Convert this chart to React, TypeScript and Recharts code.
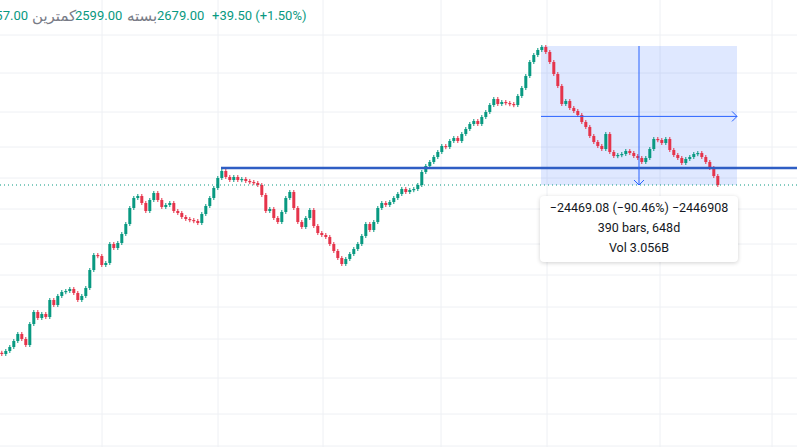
import React from 'react';
import { ComposedChart, Bar, XAxis, YAxis, CartesianGrid, ReferenceLine, ReferenceArea } from 'recharts';

// closing prices, one per candle
const closes = [
  1834, 1849, 1869, 1899, 1934, 1909, 1879, 1984, 2044, 2014,
  2034, 2019, 2104, 2079, 2124, 2144, 2149, 2159, 2139, 2104,
  2124, 2164, 2254, 2329, 2324, 2279, 2289, 2384, 2364, 2389,
  2434, 2484, 2564, 2614, 2624, 2589, 2549, 2604, 2639, 2604,
  2569, 2579, 2589, 2549, 2539, 2519, 2509, 2504, 2499, 2489,
  2534, 2574, 2614, 2664, 2714, 2749, 2719, 2704, 2719, 2704,
  2709, 2699, 2694, 2689, 2679, 2629, 2549, 2559, 2514, 2494,
  2544, 2614, 2644, 2564, 2494, 2469, 2514, 2554, 2474, 2439,
  2429, 2419, 2384, 2349, 2314, 2284, 2309, 2334, 2359, 2384,
  2424, 2484, 2454, 2494, 2564, 2589, 2579, 2594, 2614, 2634,
  2659, 2644, 2654, 2659, 2679, 2744, 2774, 2794, 2819, 2844,
  2874, 2869, 2899, 2914, 2899, 2934, 2959, 2984, 2999, 2984,
  3019, 3044, 3079, 3109, 3084, 3094, 3089, 3084, 3079, 3124,
  3164, 3224, 3294, 3329, 3354, 3369, 3344, 3294, 3234, 3174,
  3084, 3099, 3064, 3049, 3029, 2994, 2969, 2924, 2894, 2874,
  2859, 2934, 2844, 2824, 2829, 2834, 2849, 2839, 2824, 2814,
  2794, 2814, 2859, 2909, 2904, 2889, 2909, 2854, 2829, 2814,
  2789, 2809, 2819, 2834, 2839, 2819, 2794, 2764, 2724, 2679,
];
const firstOpen = 1840;

const gridPrices = [3429, 3239, 3044, 2869, 2714, 2559, 2384, 2229, 2069, 1909, 1714, 1534, 1374];
const gridBars = [25, 54, 80.25, 109.75, 136.25, 164.5, 192.5];

const lastPrice = 2679;
const levelPrice = 2764;
const levelStart = 54.75;
const measureStart = 134.75;
const measureEnd = 183.75;
const measureTop = 3374;
const measureMid = 159.25;
const measureMidPrice = 3022;

const xDomain = [-0.5, 198.75];
const yDomain = [1369, 3604];

const UP = '#089981';
const DOWN = '#e5344b';
const BLUE = '#2962ff';

const data = closes.map((c, i) => {
  const o = i === 0 ? firstOpen : closes[i - 1];
  return { t: i, body: [Math.min(o, c), Math.max(o, c)], up: c >= o };
});

const Candle = (props: any) => {
  const { x, y, width, height, payload } = props;
  if (x == null || y == null) return null;
  const top = Math.min(y, y + height);
  const h = Math.max(Math.abs(height), 1.2);
  const color = payload.up ? UP : DOWN;
  const cx = x + width / 2;
  return (
    <g>
      <line x1={cx} x2={cx} y1={top - 2} y2={top + h + 2} stroke={color} strokeWidth={1} />
      <rect x={x + 0.3} y={top} width={width - 0.6} height={h} fill={color} />
    </g>
  );
};

const valueStyle: React.CSSProperties = { color: '#089981' };
const labelStyle: React.CSSProperties = { color: '#787b86', fontFamily: '"DejaVu Sans", sans-serif', fontSize: 15 };

export default function App() {
  return (
    <div style={{ position: 'fixed', left: 0, top: 0, width: 797, height: 447, overflow: 'hidden', background: '#ffffff' }}>
      <ComposedChart width={797} height={447} data={data} margin={{ top: 0, right: 0, bottom: 0, left: 0 }}>
        <XAxis dataKey="t" type="number" domain={xDomain} ticks={gridBars} hide allowDataOverflow />
        <YAxis type="number" domain={yDomain} ticks={gridPrices} hide allowDataOverflow />
        <CartesianGrid stroke="#eef0f4" horizontalValues={gridPrices} verticalValues={gridBars} />
        <ReferenceArea x1={measureStart} x2={measureEnd} y1={lastPrice} y2={measureTop} fill={BLUE} fillOpacity={0.15} stroke="none" />
        <Bar dataKey="body" barSize={4} shape={<Candle />} isAnimationActive={false} />
        <ReferenceLine y={lastPrice} stroke={UP} strokeDasharray="1 3" strokeWidth={1} />
        <ReferenceLine segment={[{ x: levelStart, y: levelPrice }, { x: xDomain[1], y: levelPrice }]} stroke="#2f5ec4" strokeWidth={2.5} />
        <ReferenceLine segment={[{ x: measureMid, y: lastPrice }, { x: measureMid, y: measureTop }]} stroke={BLUE} strokeWidth={1} />
        <ReferenceLine segment={[{ x: measureStart, y: measureMidPrice }, { x: measureEnd, y: measureMidPrice }]} stroke={BLUE} strokeWidth={1} />
        <ReferenceLine segment={[{ x: measureMid - 1.25, y: lastPrice + 25 }, { x: measureMid, y: lastPrice }]} stroke={BLUE} strokeWidth={1} />
        <ReferenceLine segment={[{ x: measureMid + 1.25, y: lastPrice + 25 }, { x: measureMid, y: lastPrice }]} stroke={BLUE} strokeWidth={1} />
        <ReferenceLine segment={[{ x: measureEnd - 1.25, y: measureMidPrice + 25 }, { x: measureEnd, y: measureMidPrice }]} stroke={BLUE} strokeWidth={1} />
        <ReferenceLine segment={[{ x: measureEnd - 1.25, y: measureMidPrice - 25 }, { x: measureEnd, y: measureMidPrice }]} stroke={BLUE} strokeWidth={1} />
      </ComposedChart>

      <div style={{ position: 'absolute', top: 7, left: 0, width: 797, height: 18, lineHeight: '18px', fontSize: 13, fontFamily: 'Roboto, sans-serif', whiteSpace: 'nowrap' }}>
        <span style={{ position: 'absolute', right: 797 - 28, ...valueStyle }}>2757.00</span>
        <span style={{ position: 'absolute', left: 32, ...labelStyle }}>کمترین</span>
        <span style={{ position: 'absolute', left: 75, ...valueStyle }}>2599.00</span>
        <span style={{ position: 'absolute', left: 127, ...labelStyle }}>بسته</span>
        <span style={{ position: 'absolute', left: 157, ...valueStyle }}>2679.00</span>
        <span style={{ position: 'absolute', left: 212, ...valueStyle }}>+39.50 (+1.50%)</span>
      </div>

      <div style={{ position: 'absolute', left: 540, top: 196, width: 198, height: 66, background: '#ffffff', borderRadius: 4, boxShadow: '0 1px 4px rgba(0,0,0,0.18)', textAlign: 'center', fontFamily: 'Roboto, sans-serif', fontSize: 12.5, color: '#131722', lineHeight: '20px', paddingTop: 2, boxSizing: 'border-box' }}>
        <div>−24469.08 (−90.46%) −2446908</div>
        <div>390 bars, 648d</div>
        <div>Vol 3.056B</div>
      </div>
    </div>
  );
}
